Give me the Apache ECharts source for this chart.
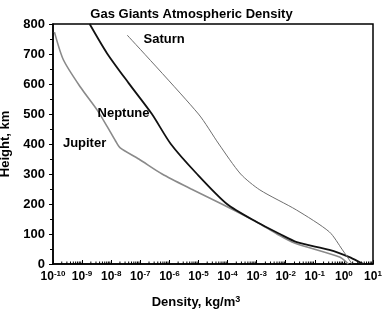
<!DOCTYPE html>
<html>
<head>
<meta charset="utf-8">
<script src="https://cdn.jsdelivr.net/npm/echarts@6/dist/echarts.min.js"></script>
<style>
  html, body { margin: 0; padding: 0; background: #fff; }
  #chart { width: 383px; height: 316px; }
</style>
</head>
<body>
<div id="chart"></div>
<script>
  // heights in km, densities as log10(kg/m3)
  const jupiterHeight = [773, 680, 590, 513, 457, 410, 387, 350, 300, 250, 200, 140, 100, 70, 23, 3, 0]
  const jupiterLogDensity = [-9.95, -9.64, -9.06, -8.48, -8.13, -7.85, -7.69, -7.05, -6.25, -5.25, -4.2, -3.0, -2.3, -1.7, -0.15, 0.12, 0.15]

  const neptuneHeight = [800, 702, 603, 500, 400, 300, 200, 140, 100, 73, 47, 23, 3, 0]
  const neptuneLogDensity = [-8.74, -8.14, -7.4, -6.6, -5.95, -5.05, -4.02, -3.0, -2.2, -1.62, -0.5, 0.19, 0.6, 0.67]

  const saturnHeight = [763, 500, 400, 300, 247, 180, 107, 47, 3, 0]
  const saturnLogDensity = [-7.45, -5.0, -4.3, -3.55, -2.89, -1.63, -0.5, -0.05, 0.26, 0.28]

  const decades = [-10, -9, -8, -7, -6, -5, -4, -3, -2, -1, 0, 1]
  const minorSteps = [2, 3, 4, 5, 6, 7, 8, 9]

  const toPairs = (logs, heights) => logs.map((e, i) => [Math.pow(10, e), heights[i]])

  const minorTicks = []
  decades.slice(0, -1).forEach((d) => {
    minorSteps.forEach((k) => minorTicks.push([k * Math.pow(10, d), 0]))
  })

  const font = '"Liberation Sans", Arial, sans-serif'

  const label = (text) => ({
    show: true,
    position: 'right',
    distance: 0,
    formatter: text,
    fontFamily: font,
    fontSize: 13,
    fontWeight: 'bold',
    color: '#000',
  })

  const chart = echarts.init(document.getElementById('chart'))
  chart.setOption({
    animation: false,
    title: {
      text: 'Gas Giants Atmospheric Density',
      left: 'center',
      top: 3,
      textStyle: { fontFamily: font, fontSize: 13, fontWeight: 'bold', color: '#000' },
    },
    grid: {
      left: 53,
      right: 10,
      top: 24,
      bottom: 52,
      outerBoundsMode: 'none',
      containLabel: false,
      show: true,
      borderColor: '#000',
      borderWidth: 1.5,
    },
    xAxis: {
      type: 'log',
      logBase: 10,
      min: 1e-10,
      max: 10,
      interval: 1,
      name: 'Density, kg/m{s|3}',
      nameLocation: 'middle',
      nameGap: 31,
      nameTextStyle: {
        fontFamily: font,
        fontSize: 13,
        fontWeight: 'bold',
        color: '#000',
        padding: [0, 34, 0, 0],
        rich: {
          s: { fontFamily: font, fontSize: 9, fontWeight: 'bold', color: '#000', verticalAlign: 'top', padding: [0, 0, 6, 0] },
        },
      },
      axisLine: { lineStyle: { color: '#000', width: 1.5 } },
      axisTick: { inside: true, length: 4, lineStyle: { color: '#000' } },
      splitLine: { show: false },
      axisLabel: {
        interval: 0,
        hideOverlap: false,
        showMinLabel: true,
        showMaxLabel: true,
        margin: 6,
        formatter: (v) => '{b|10}{s|' + Math.round(Math.log10(v)) + '}',
        rich: {
          b: { fontFamily: font, fontSize: 12, fontWeight: 'bold', color: '#000' },
          s: { fontFamily: font, fontSize: 8, fontWeight: 'bold', color: '#000', verticalAlign: 'top', padding: [0, 0, 6, 0] },
        },
      },
    },
    yAxis: {
      type: 'value',
      min: 0,
      max: 800,
      interval: 100,
      name: 'Height, km',
      nameLocation: 'middle',
      nameGap: 34,
      nameTextStyle: { fontFamily: font, fontSize: 13, fontWeight: 'bold', color: '#000' },
      axisLine: { show: true, lineStyle: { color: '#000', width: 1.5 } },
      axisTick: { show: true, length: 4, lineStyle: { color: '#000' } },
      minorTick: { show: true, splitNumber: 2, length: 3, lineStyle: { color: '#000' } },
      splitLine: { show: false },
      axisLabel: { margin: 8, fontFamily: font, fontSize: 13, fontWeight: 'bold', color: '#000' },
    },
    series: [
      {
        name: 'Jupiter',
        type: 'line',
        data: toPairs(jupiterLogDensity, jupiterHeight),
        showSymbol: false,
        smooth: 0.25,
        lineStyle: { color: '#8a8a8a', width: 1.6 },
        markPoint: {
          symbolSize: 1,
          itemStyle: { color: 'transparent' },
          label: label('Jupiter'),
          data: [{ coord: [Math.pow(10, -9.67), 400] }],
        },
      },
      {
        name: 'Neptune',
        type: 'line',
        data: toPairs(neptuneLogDensity, neptuneHeight),
        showSymbol: false,
        smooth: 0.25,
        lineStyle: { color: '#111', width: 1.8 },
        markPoint: {
          symbolSize: 1,
          itemStyle: { color: 'transparent' },
          label: label('Neptune'),
          data: [{ coord: [Math.pow(10, -8.48), 500] }],
        },
      },
      {
        name: 'Saturn',
        type: 'line',
        data: toPairs(saturnLogDensity, saturnHeight),
        showSymbol: false,
        smooth: 0.25,
        lineStyle: { color: '#6e6e6e', width: 1 },
        markPoint: {
          symbolSize: 1,
          itemStyle: { color: 'transparent' },
          label: label('Saturn'),
          data: [{ coord: [Math.pow(10, -6.9), 747] }],
        },
      },
      {
        // log minor ticks along the bottom axis
        type: 'custom',
        silent: true,
        data: minorTicks,
        renderItem: (params, api) => {
          const p = api.coord([api.value(0), 0])
          return {
            type: 'line',
            shape: { x1: p[0], y1: p[1], x2: p[0], y2: p[1] - 2.5 },
            style: { stroke: '#000', lineWidth: 1 },
          }
        },
      },
    ],
  })
</script>
</body>
</html>
